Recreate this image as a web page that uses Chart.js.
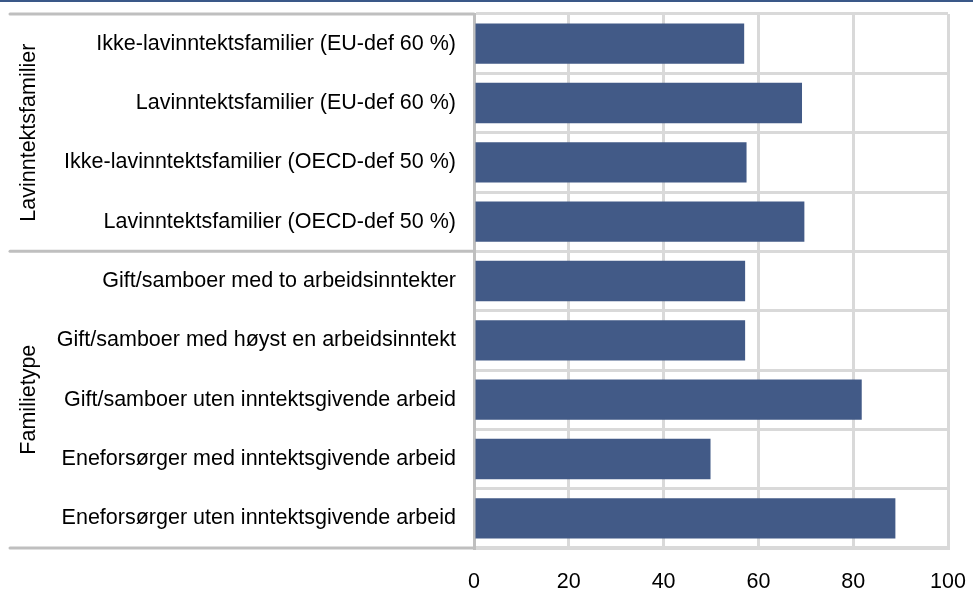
<!DOCTYPE html>
<html lang="no">
  <head>
    <meta charset="UTF-8" />
    <title>Lavinntektsfamilier og familietype</title>
    <script src="https://cdn.jsdelivr.net/npm/chart.js"></script>
    <style>
      body {
        margin: 0;
        background: #ffffff;
      }
      #wrap {
        width: 973px;
        height: 589px;
      }
    </style>
  </head>
  <body>
    <div id="wrap"><canvas id="chart" width="973" height="589"></canvas></div>

    <script>
      const categories = [
        "Ikke-lavinntektsfamilier (EU-def 60 %)",
        "Lavinntektsfamilier (EU-def 60 %)",
        "Ikke-lavinntektsfamilier (OECD-def 50 %)",
        "Lavinntektsfamilier (OECD-def 50 %)",
        "Gift/samboer med to arbeidsinntekter",
        "Gift/samboer med høyst en arbeidsinntekt",
        "Gift/samboer uten inntektsgivende arbeid",
        "Eneforsørger med inntektsgivende arbeid",
        "Eneforsørger uten inntektsgivende arbeid",
      ];
      const values = [57.0, 69.2, 57.5, 69.7, 57.2, 57.2, 81.8, 49.9, 88.9];
      const groups = ["Lavinntektsfamilier", "Familietype"];
      const groupSizes = [4, 5];
      const xTicks = [0, 20, 40, 60, 80, 100];

      const FONT = "'Liberation Sans', Arial, sans-serif";
      const FONT_SIZE = 21.5;

      // group labels + separator lines on the left side
      const groupPlugin = {
        id: "groups",
        beforeDraw(chart) {
          const ctx = chart.ctx;
          ctx.save();
          ctx.fillStyle = "#ffffff";
          ctx.fillRect(0, 0, chart.width, chart.height);
          ctx.fillStyle = "#3a5888";
          ctx.fillRect(0, 0, chart.width, 2);
          ctx.restore();
        },
        afterDraw(chart) {
          const ctx = chart.ctx;
          const y = chart.scales.y;
          const left = chart.chartArea.left;
          const bounds = [y.top];
          let idx = 0;
          groupSizes.forEach((n) => {
            idx += n;
            bounds.push(
              idx >= categories.length
                ? y.bottom
                : (y.getPixelForValue(idx - 1) + y.getPixelForValue(idx)) / 2
            );
          });
          ctx.save();
          ctx.strokeStyle = "#bfbfbf";
          ctx.lineWidth = 3;
          ctx.lineCap = "round";
          bounds.forEach((b) => {
            ctx.beginPath();
            ctx.moveTo(10, b);
            ctx.lineTo(left, b);
            ctx.stroke();
          });
          ctx.fillStyle = "#000000";
          ctx.font = FONT_SIZE + "px " + FONT;
          ctx.textAlign = "center";
          ctx.textBaseline = "middle";
          groups.forEach((g, i) => {
            const mid = (bounds[i] + bounds[i + 1]) / 2;
            ctx.save();
            ctx.translate(29, mid);
            ctx.rotate(-Math.PI / 2);
            ctx.fillText(g, 0, 0);
            ctx.restore();
          });
          ctx.restore();
        },
      };

      new Chart(document.getElementById("chart"), {
        type: "bar",
        data: {
          labels: categories,
          datasets: [
            {
              data: values,
              backgroundColor: "#425a87",
              borderWidth: 0,
              barPercentage: 0.68,
              categoryPercentage: 1,
            },
          ],
        },
        options: {
          indexAxis: "y",
          responsive: false,
          animation: false,
          layout: { padding: { top: 14, right: 25, left: 0, bottom: 0 } },
          plugins: {
            legend: { display: false },
            tooltip: { enabled: false },
          },
          scales: {
            x: {
              min: 0,
              max: 100,
              afterBuildTicks(scale) {
                scale.ticks = xTicks.map((v) => ({ value: v }));
              },
              grid: { color: "#d9d9d9", lineWidth: 3, drawTicks: false },
              border: { color: "#d9d9d9", width: 3 },
              ticks: {
                padding: 21,
                color: "#000000",
                font: { family: FONT, size: FONT_SIZE },
              },
              afterFit(scale) {
                scale.height = 41;
                scale.paddingLeft = 0;
                scale.paddingRight = 0;
              },
            },
            y: {
              grid: {
                color: "#d9d9d9",
                lineWidth: 3,
                drawTicks: false,
                offset: true,
              },
              border: { color: "#bfbfbf", width: 3 },
              ticks: {
                padding: 18,
                color: "#000000",
                font: { family: FONT, size: FONT_SIZE },
              },
              afterFit(scale) {
                scale.width = 474;
                scale.paddingTop = 0;
                scale.paddingBottom = 0;
              },
            },
          },
        },
        plugins: [groupPlugin],
      });
    </script>
  </body>
</html>
